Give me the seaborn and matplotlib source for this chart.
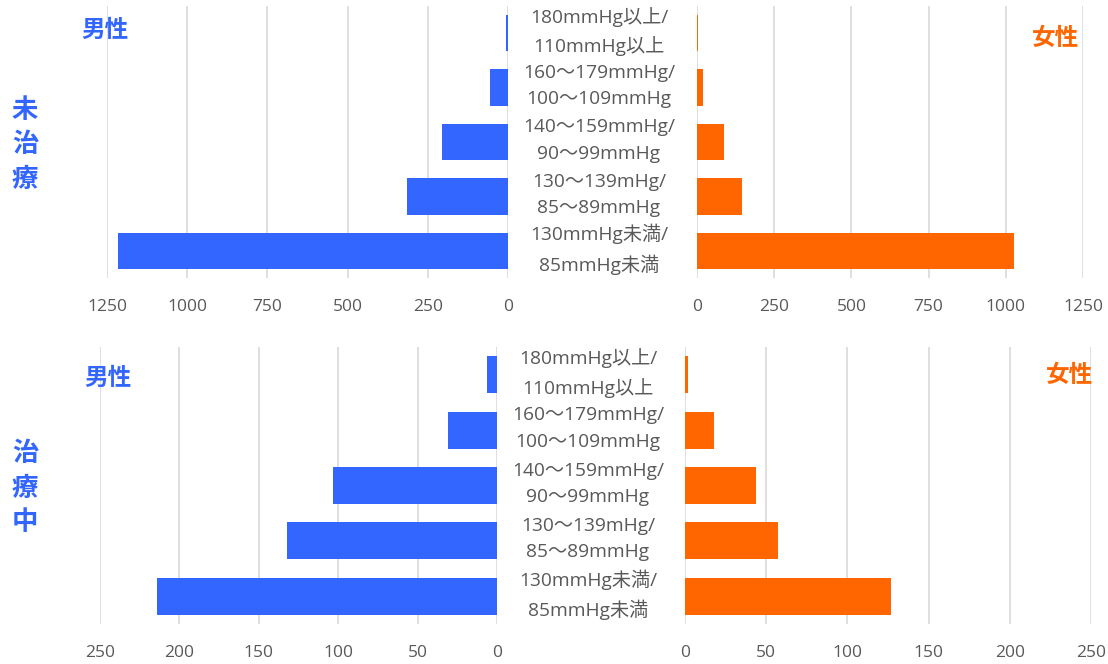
import matplotlib
matplotlib.use("Agg")
import matplotlib.pyplot as plt
import matplotlib.transforms as mtransforms
import pandas as pd
import seaborn as sns

# Blood pressure bands (top to bottom)
categories = [
    "180mmHg以上/\n110mmHg以上",
    "160～179mmHg/\n100～109mmHg",
    "140～159mmHg/\n90～99mmHg",
    "130～139mHg/\n85～89mmHg",
    "130mmHg未満/\n85mmHg未満",
]

# Number of people per band
untreated_male = [7, 57, 207, 314, 1215]
untreated_female = [2, 21, 89, 145, 1026]
treated_male = [6, 31, 103, 132, 214]
treated_female = [2, 18, 44, 57, 127]

untreated_ticks = [0, 250, 500, 750, 1000, 1250]
treated_ticks = [0, 50, 100, 150, 200, 250]

row_labels = ["未\n治\n療", "治\n療\n中"]
male_label = "男性"
female_label = "女性"

BLUE = "#3366FF"
ORANGE = "#FF6600"
GRID = "#D9D9D9"
TEXT = "#595959"
LATIN = ["Open Sans", "Noto Sans CJK JP", "DejaVu Sans"]

sns.set_theme(style="white")
plt.rcParams["font.family"] = ["Noto Sans CJK JP", "DejaVu Sans"]

fig = plt.figure(figsize=(11.08, 6.64), dpi=100)


def draw(ax, values, color, ticks, mirror):
    df = pd.DataFrame({"区分": categories, "人数": values})
    sns.barplot(data=df, x="人数", y="区分", color=color, saturation=1,
                width=0.67, linewidth=0, ax=ax)
    ax.set_xlim(ticks[0], ticks[-1])
    if mirror:
        ax.invert_xaxis()
    ax.set_xticks(ticks)
    ax.set_xticklabels([str(t) for t in ticks], family=LATIN)
    ax.set_yticks([])
    ax.set_xlabel("")
    ax.set_ylabel("")
    ax.grid(axis="x", color=GRID, linewidth=1.2)
    ax.grid(axis="y", visible=False)
    ax.set_axisbelow(True)
    for s in ax.spines.values():
        s.set_visible(False)
    ax.tick_params(axis="x", length=0, pad=15, labelsize=12.5, labelcolor=TEXT)


W, H = 1108, 664


def box(x0, x1, ytop, ybot):
    return [x0 / W, 1 - ybot / H, (x1 - x0) / W, (ybot - ytop) / H]


ax_ul = fig.add_axes(box(107, 508, 6, 278))
ax_ur = fig.add_axes(box(697, 1083, 6, 278))
ax_tl = fig.add_axes(box(100, 497, 347, 624))
ax_tr = fig.add_axes(box(685, 1091, 347, 624))

draw(ax_ul, untreated_male, BLUE, untreated_ticks, True)
draw(ax_ur, untreated_female, ORANGE, untreated_ticks, False)
draw(ax_tl, treated_male, BLUE, treated_ticks, True)
draw(ax_tr, treated_female, ORANGE, treated_ticks, False)

# Category labels between the mirrored panels
for ax, xc in ((ax_ul, 599), (ax_tl, 588)):
    trans = mtransforms.blended_transform_factory(fig.transFigure, ax.transData)
    for i, cat in enumerate(categories):
        ax.text(xc / W, i - 0.03, cat, transform=trans, ha="center", va="center",
                multialignment="center", fontsize=13.8, color=TEXT, linespacing=1.6,
                family=LATIN)

# Sex labels
sex_style = dict(fontsize=17, fontweight="bold", ha="center", va="center")
fig.text(105 / W, 1 - 30 / H, male_label, color=BLUE, **sex_style)
fig.text(1056 / W, 1 - 38 / H, female_label, color=ORANGE, **sex_style)
fig.text(108 / W, 1 - 378 / H, male_label, color=BLUE, **sex_style)
fig.text(1070 / W, 1 - 375 / H, female_label, color=ORANGE, **sex_style)

# Treatment status labels
row_style = dict(color=BLUE, fontsize=19, fontweight="bold", ha="center",
                 va="center", linespacing=1.35)
fig.text(25 / W, 1 - 145 / H, row_labels[0], **row_style)
fig.text(25 / W, 1 - 488 / H, row_labels[1], **row_style)

fig.savefig("out.png", dpi=100)
